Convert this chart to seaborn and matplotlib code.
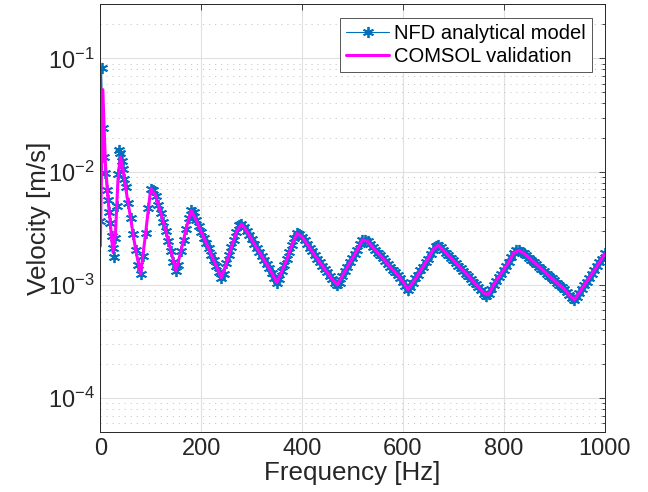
import numpy as np
import pandas as pd
import matplotlib
matplotlib.use('Agg')
import matplotlib.pyplot as plt
import seaborn as sns
from matplotlib.ticker import LogLocator, FixedLocator

sns.set_theme(style='white')
plt.rcParams['font.family'] = ['Liberation Sans', 'DejaVu Sans']
plt.rcParams['mathtext.fontset'] = 'custom'
plt.rcParams['mathtext.rm'] = 'Liberation Sans'

# frequency grids [Hz]
nfd_freq = np.r_[np.arange(0, 50, 2.5), np.arange(50, 1001, 5)]
comsol_freq = np.r_[np.arange(0, 50, 5), np.arange(50, 1001, 10)]

# velocity, in mm/s
nfd_vel_mms = [
    3.7, 82, 24.5, 13.5, 9.7, 6.9, 5.6, 4.4, 3.5, 2.7,
    2.1, 1.77, 2.6, 5.0, 9.5, 15.5, 14.5, 12.3, 10.5, 8.7,
    # 50 Hz onwards
    7.3, 5.3, 3.9, 2.8, 2.05, 1.5, 1.25, 1.8, 2.9, 4.8,
    7.1, 6.9, 6.1, 5.1, 4.3, 3.6, 3.0, 2.45, 2.0, 1.6,
    1.33, 1.5, 2.0, 2.5, 3.1, 3.9, 4.55, 4.4, 3.75, 3.3,
    2.95, 2.6, 2.35, 2.1, 1.85, 1.65, 1.47, 1.3, 1.16, 1.25,
    1.55, 1.85, 2.15, 2.5, 2.95, 3.4, 3.45, 3.25, 3.0, 2.76,
    2.52, 2.32, 2.13, 1.96, 1.8, 1.65, 1.53, 1.4, 1.28, 1.16,
    1.05, 1.12, 1.32, 1.49, 1.69, 1.95, 2.25, 2.6, 2.85, 2.8,
    2.66, 2.48, 2.3, 2.13, 1.98, 1.84, 1.71, 1.59, 1.48, 1.38,
    1.29, 1.2, 1.12, 1.05, 1.0, 1.05, 1.2, 1.32, 1.44, 1.58,
    1.72, 1.88, 2.05, 2.3, 2.5, 2.5, 2.43, 2.3, 2.16, 2.04,
    1.93, 1.82, 1.72, 1.62, 1.53, 1.45, 1.36, 1.29, 1.22, 1.15,
    1.07, 0.98, 0.91, 0.96, 1.05, 1.14, 1.23, 1.35, 1.45, 1.58,
    1.7, 1.86, 2.05, 2.22, 2.24, 2.18, 2.04, 1.93, 1.83, 1.74,
    1.65, 1.56, 1.48, 1.4, 1.33, 1.26, 1.2, 1.13, 1.07, 1.02,
    0.96, 0.9, 0.84, 0.8, 0.84, 0.93, 1.0, 1.08, 1.17, 1.26,
    1.36, 1.47, 1.59, 1.75, 1.92, 2.02, 2.02, 1.97, 1.9, 1.82,
    1.74, 1.66, 1.59, 1.52, 1.45, 1.38, 1.32, 1.26, 1.2, 1.15,
    1.1, 1.05, 1.0, 0.96, 0.92, 0.87, 0.81, 0.76, 0.74, 0.78,
    0.85, 0.92, 1.0, 1.07, 1.16, 1.25, 1.35, 1.46, 1.58, 1.71,
    1.9,
]

comsol_vel_mms = [
    2.2, 53, 12, 6.0, 3.4, 1.95, 2.8, 8.5, 13.5, 10.5,
    # 50 Hz onwards
    7.3, 3.9, 2.05, 1.25, 2.9, 7.1, 6.1, 4.3, 3.0, 2.0,
    1.33, 2.0, 3.1, 4.55, 3.75, 2.95, 2.35, 1.85, 1.47, 1.16,
    1.55, 2.15, 2.95, 3.45, 3.0, 2.52, 2.13, 1.8, 1.53, 1.28,
    1.05, 1.32, 1.69, 2.25, 2.85, 2.66, 2.3, 1.98, 1.71, 1.48,
    1.29, 1.12, 1.0, 1.2, 1.44, 1.72, 2.05, 2.5, 2.43, 2.16,
    1.93, 1.72, 1.53, 1.36, 1.22, 1.07, 0.91, 1.05, 1.23, 1.45,
    1.7, 2.05, 2.24, 2.04, 1.83, 1.65, 1.48, 1.33, 1.2, 1.07,
    0.96, 0.85, 0.82, 1.0, 1.17, 1.36, 1.59, 1.92, 2.02, 1.9,
    1.74, 1.59, 1.45, 1.32, 1.2, 1.1, 1.0, 0.92, 0.81, 0.74,
    0.85, 1.0, 1.16, 1.35, 1.58, 1.88,
]

nfd = pd.DataFrame({'freq': nfd_freq, 'vel': np.array(nfd_vel_mms) * 1e-3})
comsol = pd.DataFrame({'freq': comsol_freq, 'vel': np.array(comsol_vel_mms) * 1e-3})

dark = '#262626'
fig = plt.figure(figsize=(6.48, 4.92), dpi=100)
ax = fig.add_axes([0.1548, 0.1213, 0.7781, 0.8699])

sns.lineplot(data=nfd, x='freq', y='vel', ax=ax, estimator=None, sort=False,
             color='#0072BD', linewidth=0.8, marker=(6, 2, 0), markersize=8,
             markeredgewidth=1.3, markeredgecolor='#0072BD',
             label='NFD analytical model')
sns.lineplot(data=comsol, x='freq', y='vel', ax=ax, estimator=None, sort=False,
             color='#FF00FF', linewidth=2.2, label='COMSOL validation')

ax.set_yscale('log')
ax.set_xlim(0, 1000)
ax.set_ylim(5e-5, 0.3)
ax.xaxis.set_major_locator(FixedLocator([0, 200, 400, 600, 800, 1000]))
ax.yaxis.set_major_locator(LogLocator(base=10, numticks=10))
ax.yaxis.set_minor_locator(LogLocator(base=10, subs=np.arange(2, 10), numticks=20))

# MATLAB-like grid: solid major, dotted minor on the log axis
ax.grid(True, which='major', color='#e0e0e0', linewidth=0.8, linestyle='-')
ax.grid(True, which='minor', axis='y', color='#c8c8c8', linewidth=0.7,
        linestyle=(0, (1.2, 5)))
ax.set_axisbelow(True)

ax.tick_params(which='both', direction='in', top=True, right=True,
               color=dark, labelcolor=dark, width=0.6)
ax.tick_params(which='major', length=4, labelsize=17, pad=4)
ax.tick_params(which='minor', length=2.2)
ax.tick_params(axis='x', which='minor', bottom=False, top=False)
for sp in ax.spines.values():
    sp.set_color(dark)
    sp.set_linewidth(0.7)

ax.set_xlabel('Frequency [Hz]', fontsize=18.7, color=dark, labelpad=1)
ax.set_ylabel('Velocity [m/s]', fontsize=18.7, color=dark, labelpad=-2.5)

leg = ax.legend(loc='upper right', bbox_to_anchor=(0.9752, 0.968),
                borderaxespad=0, fontsize=14.5, frameon=True, fancybox=False,
                framealpha=1, edgecolor='#555555', handlelength=2.15,
                handletextpad=0.25, borderpad=0.3, labelspacing=0.18)
leg.get_frame().set_linewidth(0.7)
for t in leg.get_texts():
    t.set_color('black')

fig.savefig('out.png', dpi=100)
